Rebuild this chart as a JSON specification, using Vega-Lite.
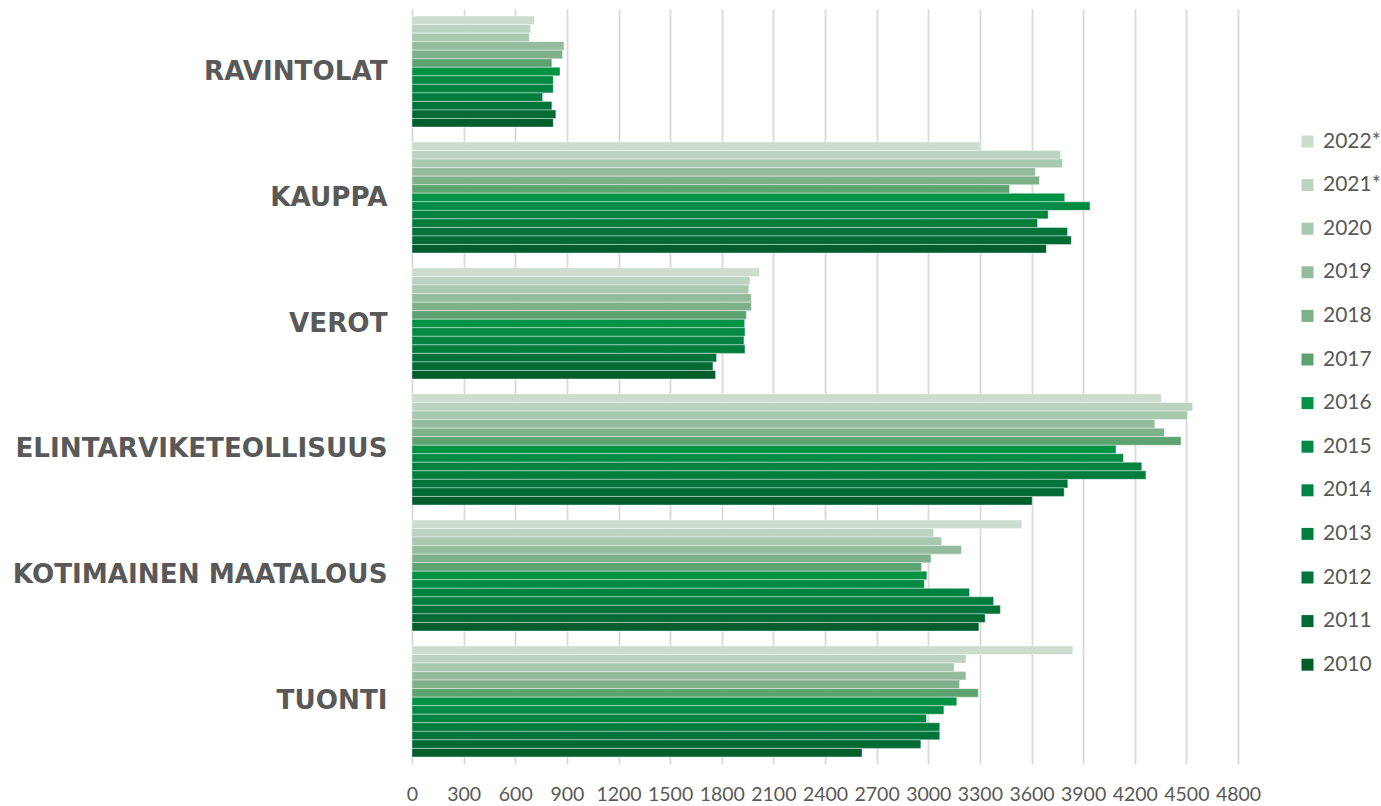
{
  "$schema": "https://vega.github.io/schema/vega-lite/v6.json",
  "autosize": {"type": "none"},
  "padding": {"left": 412, "top": 9, "right": 143, "bottom": 42},
  "width": 826,
  "height": 755,
  "background": "#ffffff",
  "config": {"view": {"stroke": null}, "font": "Lato"},
  "data": {
    "values": [
      {"c": "RAVINTOLAT", "y": "2022*", "v": 712},
      {"c": "RAVINTOLAT", "y": "2021*", "v": 689},
      {"c": "RAVINTOLAT", "y": "2020", "v": 681},
      {"c": "RAVINTOLAT", "y": "2019", "v": 883},
      {"c": "RAVINTOLAT", "y": "2018", "v": 875},
      {"c": "RAVINTOLAT", "y": "2017", "v": 813},
      {"c": "RAVINTOLAT", "y": "2016", "v": 860},
      {"c": "RAVINTOLAT", "y": "2015", "v": 821},
      {"c": "RAVINTOLAT", "y": "2014", "v": 821},
      {"c": "RAVINTOLAT", "y": "2013", "v": 759},
      {"c": "RAVINTOLAT", "y": "2012", "v": 813},
      {"c": "RAVINTOLAT", "y": "2011", "v": 836},
      {"c": "RAVINTOLAT", "y": "2010", "v": 821},
      {"c": "KAUPPA", "y": "2022*", "v": 3301},
      {"c": "KAUPPA", "y": "2021*", "v": 3769},
      {"c": "KAUPPA", "y": "2020", "v": 3780},
      {"c": "KAUPPA", "y": "2019", "v": 3622},
      {"c": "KAUPPA", "y": "2018", "v": 3646},
      {"c": "KAUPPA", "y": "2017", "v": 3472},
      {"c": "KAUPPA", "y": "2016", "v": 3793},
      {"c": "KAUPPA", "y": "2015", "v": 3940},
      {"c": "KAUPPA", "y": "2014", "v": 3697},
      {"c": "KAUPPA", "y": "2013", "v": 3635},
      {"c": "KAUPPA", "y": "2012", "v": 3809},
      {"c": "KAUPPA", "y": "2011", "v": 3831},
      {"c": "KAUPPA", "y": "2010", "v": 3686},
      {"c": "VEROT", "y": "2022*", "v": 2019},
      {"c": "VEROT", "y": "2021*", "v": 1964},
      {"c": "VEROT", "y": "2020", "v": 1957},
      {"c": "VEROT", "y": "2019", "v": 1972},
      {"c": "VEROT", "y": "2018", "v": 1972},
      {"c": "VEROT", "y": "2017", "v": 1943},
      {"c": "VEROT", "y": "2016", "v": 1933},
      {"c": "VEROT", "y": "2015", "v": 1935},
      {"c": "VEROT", "y": "2014", "v": 1929},
      {"c": "VEROT", "y": "2013", "v": 1935},
      {"c": "VEROT", "y": "2012", "v": 1770},
      {"c": "VEROT", "y": "2011", "v": 1749},
      {"c": "VEROT", "y": "2010", "v": 1764},
      {"c": "ELINTARVIKETEOLLISUUS", "y": "2022*", "v": 4354},
      {"c": "ELINTARVIKETEOLLISUUS", "y": "2021*", "v": 4536},
      {"c": "ELINTARVIKETEOLLISUUS", "y": "2020", "v": 4506},
      {"c": "ELINTARVIKETEOLLISUUS", "y": "2019", "v": 4317},
      {"c": "ELINTARVIKETEOLLISUUS", "y": "2018", "v": 4372},
      {"c": "ELINTARVIKETEOLLISUUS", "y": "2017", "v": 4469},
      {"c": "ELINTARVIKETEOLLISUUS", "y": "2016", "v": 4091},
      {"c": "ELINTARVIKETEOLLISUUS", "y": "2015", "v": 4134},
      {"c": "ELINTARVIKETEOLLISUUS", "y": "2014", "v": 4241},
      {"c": "ELINTARVIKETEOLLISUUS", "y": "2013", "v": 4265},
      {"c": "ELINTARVIKETEOLLISUUS", "y": "2012", "v": 3811},
      {"c": "ELINTARVIKETEOLLISUUS", "y": "2011", "v": 3790},
      {"c": "ELINTARVIKETEOLLISUUS", "y": "2010", "v": 3604},
      {"c": "KOTIMAINEN MAATALOUS", "y": "2022*", "v": 3544},
      {"c": "KOTIMAINEN MAATALOUS", "y": "2021*", "v": 3031},
      {"c": "KOTIMAINEN MAATALOUS", "y": "2020", "v": 3078},
      {"c": "KOTIMAINEN MAATALOUS", "y": "2019", "v": 3193},
      {"c": "KOTIMAINEN MAATALOUS", "y": "2018", "v": 3016},
      {"c": "KOTIMAINEN MAATALOUS", "y": "2017", "v": 2961},
      {"c": "KOTIMAINEN MAATALOUS", "y": "2016", "v": 2992},
      {"c": "KOTIMAINEN MAATALOUS", "y": "2015", "v": 2977},
      {"c": "KOTIMAINEN MAATALOUS", "y": "2014", "v": 3240},
      {"c": "KOTIMAINEN MAATALOUS", "y": "2013", "v": 3380},
      {"c": "KOTIMAINEN MAATALOUS", "y": "2012", "v": 3419},
      {"c": "KOTIMAINEN MAATALOUS", "y": "2011", "v": 3331},
      {"c": "KOTIMAINEN MAATALOUS", "y": "2010", "v": 3294},
      {"c": "TUONTI", "y": "2022*", "v": 3840},
      {"c": "TUONTI", "y": "2021*", "v": 3219},
      {"c": "TUONTI", "y": "2020", "v": 3150},
      {"c": "TUONTI", "y": "2019", "v": 3219},
      {"c": "TUONTI", "y": "2018", "v": 3182},
      {"c": "TUONTI", "y": "2017", "v": 3291},
      {"c": "TUONTI", "y": "2016", "v": 3166},
      {"c": "TUONTI", "y": "2015", "v": 3091},
      {"c": "TUONTI", "y": "2014", "v": 2989},
      {"c": "TUONTI", "y": "2013", "v": 3067},
      {"c": "TUONTI", "y": "2012", "v": 3067},
      {"c": "TUONTI", "y": "2011", "v": 2957},
      {"c": "TUONTI", "y": "2010", "v": 2615}
    ]
  },
  "mark": {"type": "bar", "stroke": "#ffffff", "strokeOpacity": 0.4, "strokeWidth": 1},
  "encoding": {
    "y": {
      "field": "c",
      "type": "nominal",
      "sort": ["RAVINTOLAT", "KAUPPA", "VEROT", "ELINTARVIKETEOLLISUUS", "KOTIMAINEN MAATALOUS", "TUONTI"],
      "scale": {"paddingInner": 0.119, "paddingOuter": 0.056},
      "axis": {
        "title": null,
        "domain": false,
        "ticks": false,
        "labelPadding": 25,
        "labelFont": "DejaVu Sans",
        "labelFontWeight": "bold",
        "labelFontSize": 26.2,
        "labelColor": "#595959",
        "labelLimit": 420
      }
    },
    "yOffset": {
      "field": "y",
      "type": "nominal",
      "scale": {
        "domain": ["2022*", "2021*", "2020", "2019", "2018", "2017", "2016", "2015", "2014", "2013", "2012", "2011", "2010"],
        "paddingInner": 0,
        "paddingOuter": 0
      }
    },
    "x": {
      "field": "v",
      "type": "quantitative",
      "scale": {"domain": [0, 4800], "nice": false, "zero": true},
      "axis": {
        "title": null,
        "values": [0, 300, 600, 900, 1200, 1500, 1800, 2100, 2400, 2700, 3000, 3300, 3600, 3900, 4200, 4500, 4800],
        "format": "d",
        "domain": false,
        "ticks": false,
        "grid": true,
        "gridColor": "#D9D9D9",
        "gridWidth": 1.8,
        "labelPadding": 21,
        "labelFont": "Lato",
        "labelFontSize": 19.5,
        "labelColor": "#595959",
        "labelFlush": false,
        "labelOverlap": false
      }
    },
    "color": {
      "field": "y",
      "type": "nominal",
      "scale": {
        "domain": ["2022*", "2021*", "2020", "2019", "2018", "2017", "2016", "2015", "2014", "2013", "2012", "2011", "2010"],
        "range": ["#CCDCCF", "#BDD3C2", "#A8C8AF", "#94BC9C", "#7EB08A", "#5CA371", "#009245", "#008A43", "#008341", "#007C3D", "#00733A", "#006A34", "#005E2C"]
      },
      "legend": {
        "title": null,
        "orient": "none",
        "legendX": 885,
        "legendY": 122,
        "symbolType": "square",
        "symbolSize": 144,
        "symbolStrokeWidth": 0,
        "labelFont": "Lato",
        "labelFontSize": 21,
        "labelColor": "#595959",
        "labelOffset": 5,
        "rowPadding": 21.6
      }
    }
  }
}
